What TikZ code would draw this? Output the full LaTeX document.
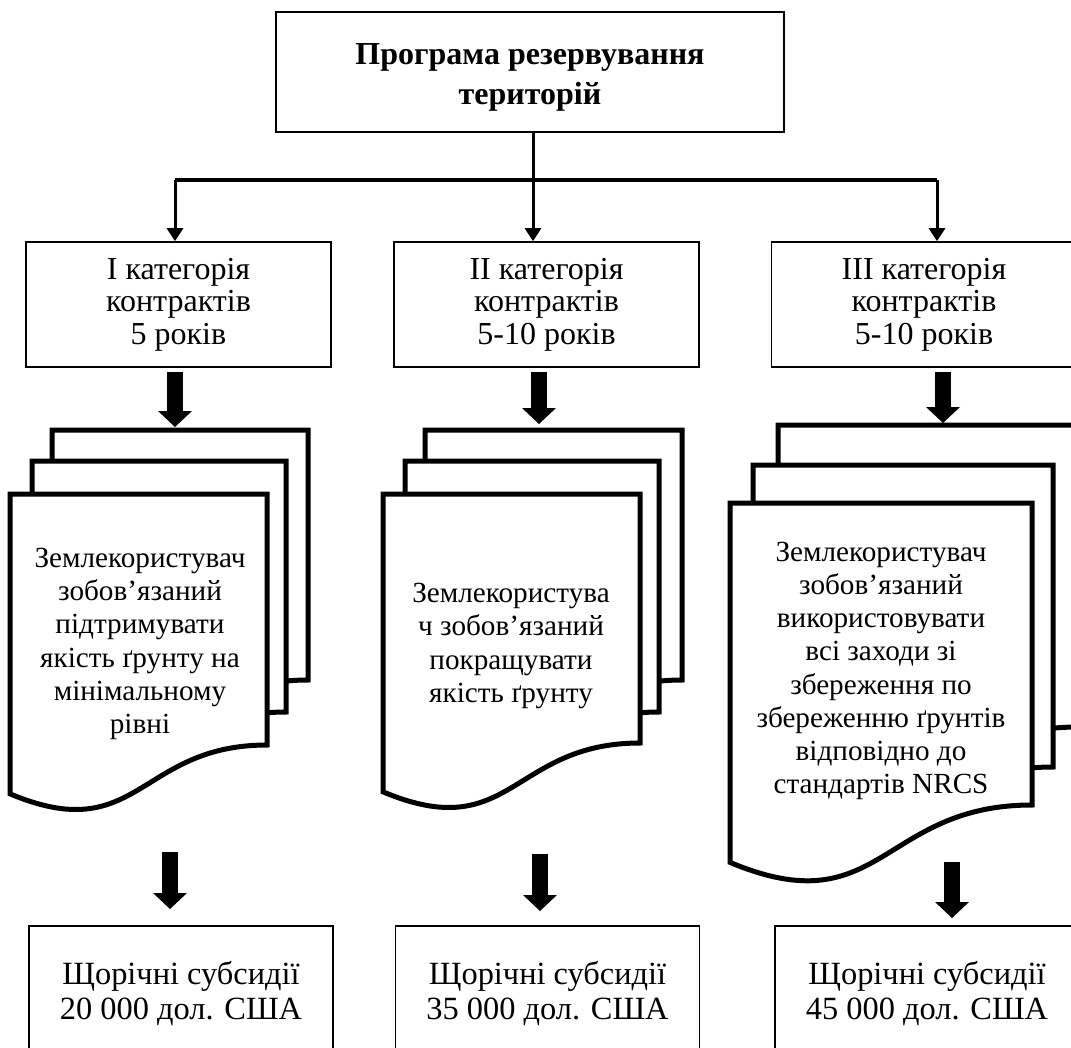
\documentclass[tikz,border=0pt]{standalone}
\usepackage{fontspec}
\setmainfont{Liberation Serif}
\usetikzlibrary{arrows.meta,calc}
\newcommand\docpage[4]{%
  \filldraw[docline] (#1,#2) -- (#1+#3,#2) -- (#1+#3,#4)
    .. controls (#1+0.5*#3,#4) and (#1+0.5*#3,#4+0.4*#3) .. (#1,#4+0.19*#3) -- cycle;}
\begin{document}
\begin{tikzpicture}[x=0.5pt,y=-0.5pt,
  box/.style={draw,line width=0.8pt,align=center,inner sep=0pt},
  topbox/.style={box,minimum width=254pt,minimum height=60pt},
  toptext/.style={align=center,inner sep=0pt,font=\fontsize{16}{20}\selectfont\bfseries},
  catbox/.style={box,minimum width=152.5pt,minimum height=62.5pt,font=\fontsize{16}{16.2}\selectfont},
  botbox/.style={box,minimum width=152pt,minimum height=68pt,font=\fontsize{16.2}{17.5}\selectfont},
  doctext/.style={align=center,inner sep=0pt,font=\fontsize{14.6}{16.6}\selectfont},
  docline/.style={draw=black,fill=white,line width=2.5pt,line join=miter},
  conn/.style={line width=1.5pt,-{Triangle[width=8pt,length=6.5pt]}},
  hline/.style={line width=2pt},
  bigarrow/.style={line width=8pt,-{Triangle[width=17pt,length=8pt,line width=0pt]}}
]
\useasboundingbox (0,0) rectangle (1071,1048);
\clip (0,0) rectangle (1071,1048);
\fill[white] (0,0) rectangle (1071,1048);

% top and category boxes
\node[topbox] (top) at (530,72) {};
\node[toptext] (toptitle) at (530,77) {Програма резервування\\територій};
\node[catbox] (cat1) at (178.5,304.5) {I категорія\\контрактів\\5 років};
\node[catbox] (cat2) at (546.5,304.5) {II категорія\\контрактів\\5-10 років};
\node[catbox] (cat3) at (924,304.5) {III категорія\\контрактів\\5-10 років};

% connectors from top box
\coordinate (tj) at ([xshift=1.5pt]top.south);
\coordinate (hL) at (175,180);
\coordinate (hR) at (937,180);
\draw[hline] (hL) -- (hR);
\draw[line width=1.5pt] (tj) -- (tj |- hL);
\draw[conn] (tj |- hL) -- (tj |- cat2.north);
\draw[conn] (hL) -- (hL |- cat1.north);
\draw[conn] (hR) -- (hR |- cat3.north);

% document stacks
\docpage{52}{430}{256}{680}
\docpage{32}{461}{254}{712}
\docpage{10}{494}{257}{745}
\docpage{425}{430}{257}{680}
\docpage{405}{461}{254}{712}
\docpage{383}{494}{257}{743}
\docpage{778}{425}{300}{727}
\docpage{753}{465}{300}{767}
\docpage{730}{503}{302}{805}

\node[doctext] (doc1) at (140,644) {Землекористувач\\зобов’язаний\\підтримувати\\якість ґрунту на\\мінімальному\\рівні};
\node[doctext] (doc2) at (511,646) {Землекористува\\ч зобов’язаний\\покращувати\\якість ґрунту};
\node[doctext] (doc3) at (881,671) {Землекористувач\\зобов’язаний\\використовувати\\всі заходи зі\\збереження по\\збереженню ґрунтів\\відповідно до\\стандартів NRCS};

% bottom boxes
\node[botbox] (sub1) at (181,994) {Щорічні субсидії\\20 000 дол. США};
\node[botbox] (sub2) at (547.5,994) {Щорічні субсидії\\35 000 дол. США};
\node[botbox] (sub3) at (927,994) {Щорічні субсидії\\45 000 дол. США};

% block arrows
\coordinate (a1s) at (175,372); \coordinate (a1e) at (175,427);
\coordinate (a2s) at (539,372); \coordinate (a2e) at (539,424);
\coordinate (a3s) at (943,372); \coordinate (a3e) at (943,423);
\coordinate (b1s) at (170,852); \coordinate (b1e) at (170,909);
\coordinate (b2s) at (540,854); \coordinate (b2e) at (540,911);
\coordinate (b3s) at (952,862); \coordinate (b3e) at (952,918);
\draw[bigarrow] (a1s) -- (a1e);
\draw[bigarrow] (a2s) -- (a2e);
\draw[bigarrow] (a3s) -- (a3e);
\draw[bigarrow] (b1s) -- (b1e);
\draw[bigarrow] (b2s) -- (b2e);
\draw[bigarrow] (b3s) -- (b3e);
\end{tikzpicture}
\end{document}
